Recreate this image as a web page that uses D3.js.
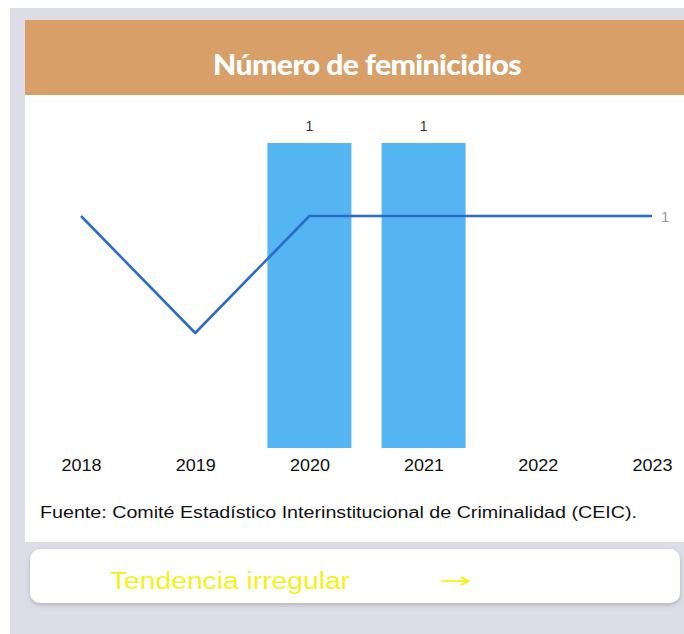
<!DOCTYPE html>
<html><head><meta charset="utf-8">
<script src="https://cdn.jsdelivr.net/npm/d3@7"></script>
<style>
html,body{margin:0;padding:0;background:#fff;}
svg{display:block;}
</style></head>
<body>
<svg id="c" width="684" height="634"></svg>
<script>
const years = ["2018","2019","2020","2021","2022","2023"];
const barValues = [0, 0, 1, 1, 0, 0];
const lineValues = [1, 0, 1, 1, 1, 1];
const title = "Número de feminicidios";
const source = "Fuente: Comité Estadístico Interinstitucional de Criminalidad (CEIC).";
const trendText = "Tendencia irregular";

const svg = d3.select("#c");
const W = 684, H = 634;

// page background
svg.append("rect").attr("x",0).attr("y",0).attr("width",W).attr("height",H).attr("fill","#ffffff");
svg.append("rect").attr("x",10).attr("y",8).attr("width",W-10).attr("height",H-8).attr("fill","#dcdde6");
// card
svg.append("rect").attr("x",25).attr("y",20).attr("width",W-25).attr("height",522).attr("fill","#ffffff");
svg.append("rect").attr("x",25).attr("y",20).attr("width",W-25).attr("height",75).attr("fill","#d8a068");
svg.append("text").attr("x",367).attr("y",75).attr("text-anchor","middle")
  .attr("font-family","Lato, 'Open Sans', sans-serif").attr("font-weight","900")
  .attr("font-size",28).attr("fill","#ffffff").attr("letter-spacing","-0.6")
  .attr("textLength",308).attr("lengthAdjust","spacingAndGlyphs").text(title);

// scales
const x = d3.scalePoint().domain(years).range([81,652]);
const bw = 84;
const yBar = d3.scaleLinear().domain([0,1]).range([448,143]);
const yLine = d3.scaleLinear().domain([-1,1]).range([450,216]);

const g = svg.append("g");
const barData = years.map((y,i)=>({y, v:barValues[i]})).filter(d=>d.v>0);
g.selectAll("rect.bar").data(barData)
  .join("rect").attr("class","bar")
  .attr("x",d=>x(d.y)-bw/2).attr("width",bw)
  .attr("y",d=>yBar(d.v)).attr("height",d=>yBar(0)-yBar(d.v))
  .attr("fill","#55b4f2");
g.selectAll("text.bl").data(barData)
  .join("text").attr("class","bl")
  .attr("x",d=>x(d.y)).attr("y",d=>yBar(d.v)-12)
  .attr("text-anchor","middle").attr("font-family","Liberation Sans, Arial, sans-serif")
  .attr("font-size",14).attr("fill","#333").text(d=>d.v);

const line = d3.line().x((d,i)=>x(years[i])).y(d=>yLine(d));
g.append("path").datum(lineValues).attr("d",line).attr("fill","none")
  .attr("stroke","#2b6ccb").attr("stroke-width",2.6).attr("stroke-linejoin","round");
g.append("text").attr("x",x(years[5])+9).attr("y",yLine(lineValues[5])+6)
  .attr("font-family","Liberation Sans, Arial, sans-serif").attr("font-size",15).attr("fill","#999")
  .text(lineValues[5]);

// x axis labels
const ax = svg.append("g").attr("transform","translate(0,448)")
  .call(d3.axisBottom(x).tickSize(0).tickPadding(8));
ax.select(".domain").remove();
ax.selectAll("text").attr("font-family","Liberation Sans, Arial, sans-serif").attr("font-size",17)
  .attr("fill","#111").attr("dy","0.9em")
  .attr("textLength",40).attr("lengthAdjust","spacingAndGlyphs");

svg.append("text").attr("x",40).attr("y",518).attr("font-family","Liberation Sans, Arial, sans-serif")
  .attr("font-size",16).attr("fill","#111")
  .attr("textLength",597).attr("lengthAdjust","spacingAndGlyphs").text(source);

// trend box
const defs = svg.append("defs");
const f = defs.append("filter").attr("id","sh").attr("x","-5%").attr("y","-20%").attr("width","110%").attr("height","150%");
f.append("feDropShadow").attr("dx",0).attr("dy",2).attr("stdDeviation",2).attr("flood-color","#888").attr("flood-opacity",0.5);
svg.append("rect").attr("x",30).attr("y",549).attr("width",650).attr("height",54).attr("rx",10)
  .attr("fill","#ffffff").attr("filter","url(#sh)");
svg.append("text").attr("x",110).attr("y",589).attr("font-family","Liberation Sans, Arial, sans-serif")
  .attr("font-size",23).attr("fill","#f2f21a")
  .attr("textLength",240).attr("lengthAdjust","spacingAndGlyphs").text(trendText);
svg.append("text").attr("x",440).attr("y",588).attr("font-family","DejaVu Sans, sans-serif")
  .attr("font-size",22).attr("fill","#f2f21a")
  .attr("textLength",32).attr("lengthAdjust","spacingAndGlyphs").text("→");
</script>
</body></html>
